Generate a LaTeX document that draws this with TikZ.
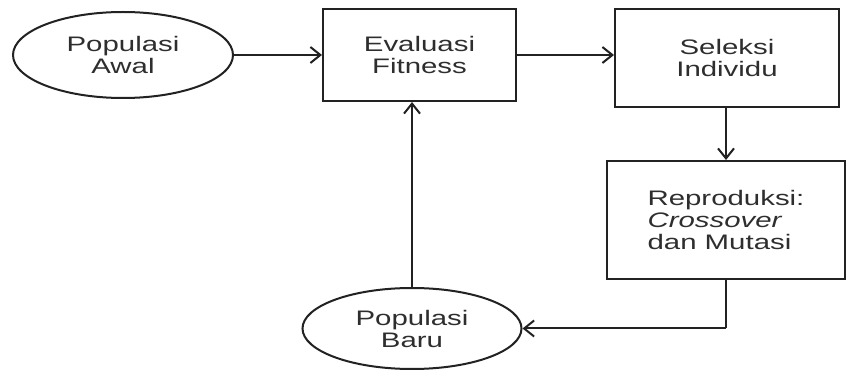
\documentclass[tikz,border=0pt]{standalone}
\usepackage{fontspec}
\setmainfont{Liberation Sans}[FakeStretch=1.4]
\usetikzlibrary{positioning,arrows.meta,shapes.geometric}
\definecolor{ink}{HTML}{222222}
\definecolor{txt}{HTML}{2E2E2E}
\tikzset{
  oval/.style={draw=ink,line width=2pt,ellipse,inner sep=0pt,align=center,text=txt,font=\fontsize{21}{22}\selectfont},
  box/.style={draw=ink,line width=2pt,rectangle,inner sep=0pt,align=center,text=txt,font=\fontsize{21}{22}\selectfont},
  flow/.style={-{Straight Barb[length=10pt,width=16pt,line width=2pt]},draw=ink,line width=2pt},
  link/.style={draw=ink,line width=2pt}}

\begin{document}
\begin{tikzpicture}[x=1pt,y=-1pt]
\useasboundingbox (0,0) rectangle (847,371);
\node[oval,minimum width=220pt,minimum height=86pt] (awal) at (123,55) {Populasi\\Awal};
\node[box,minimum width=193pt,minimum height=92pt] (eval) at (419.5,55) {Evaluasi\\Fitness};
\node[box,minimum width=224pt,minimum height=98pt] (seleksi) at (727,58) {Seleksi\\Individu};
\node[box,minimum width=238pt,minimum height=118pt,align=left] (repro) at (726,220) {Reproduksi:\\\textit{Crossover}\\dan Mutasi};
\node[oval,minimum width=219pt,minimum height=81pt] (baru) at (412,328.5) {Populasi\\Baru};
\coordinate (turn) at (repro.south |- baru.east);
\draw[flow] (awal.east) -- (eval.west);
\draw[flow] (eval.east) -- (eval.east -| seleksi.west);
\draw[flow] (seleksi.south -| repro.north) -- (repro.north);
\draw[link] (repro.south) -- (turn);
\draw[flow] (turn) -- (baru.east);
\draw[flow] (baru.north) -- (baru.north |- eval.south);
\end{tikzpicture}
\end{document}
